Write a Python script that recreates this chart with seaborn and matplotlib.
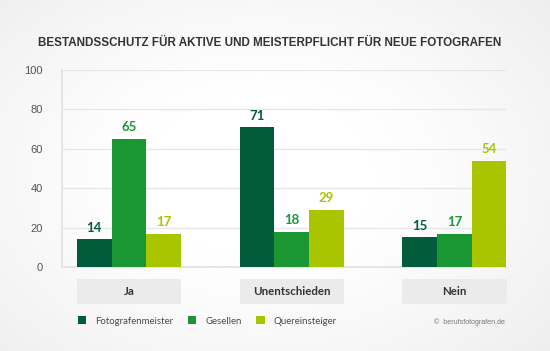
import matplotlib
matplotlib.use("Agg")
import matplotlib.pyplot as plt
import matplotlib.transforms as mtransforms
from matplotlib.patches import Rectangle
import seaborn as sns
import pandas as pd
import numpy as np

categories = ["Ja", "Unentschieden", "Nein"]
series = ["Fotografenmeister", "Gesellen", "Quereinsteiger"]
fotografenmeister = [14, 71, 15]
gesellen = [65, 18, 17]
quereinsteiger = [17, 29, 54]
colors = ["#005C3A", "#1A9633", "#A8C500"]
yticks = [0, 20, 40, 60, 80, 100]

rows = []
for s, vals in zip(series, [fotografenmeister, gesellen, quereinsteiger]):
    for c, v in zip(categories, vals):
        rows.append({"Kategorie": c, "Gruppe": s, "Wert": v})
df = pd.DataFrame(rows)

sns.set_theme(style="white")
plt.rcParams["font.family"] = ["Lato", "DejaVu Sans"]

fig = plt.figure(figsize=(5.5, 3.51), dpi=100, facecolor="#F4F4F4")

# soft radial background
bg = fig.add_axes([0, 0, 1, 1], zorder=-10)
yy, xx = np.mgrid[0:351, 0:550]
r = np.sqrt(((xx - 260) / 330.0) ** 2 + ((yy - 175) / 230.0) ** 2)
shade = 1.0 - 0.085 * np.clip(r - 0.35, 0, None) ** 1.2
bg.imshow(np.dstack([shade] * 3), aspect="auto", extent=[0, 1, 0, 1], interpolation="bilinear")
bg.axis("off")

ax = fig.add_axes([62/550, 1-267/351, (506-62)/550, (267-70)/351])
ax.set_facecolor("none")

sns.barplot(data=df, x="Kategorie", y="Wert", hue="Gruppe", order=categories,
            hue_order=series, palette=colors, width=0.64, gap=0, saturation=1,
            edgecolor="none", linewidth=0, ax=ax, zorder=3)

ax.set_ylim(0, 100)
ax.set_xlim(-0.412, 2.316)
ax.set_yticks(yticks)
ax.set_yticklabels([str(t) for t in yticks], family="Liberation Sans", fontsize=8, color="#555555")
ax.tick_params(axis="y", length=0, pad=14)
ax.set_xticks([])
ax.set_xlabel("")
ax.set_ylabel("")
ax.grid(axis="y", color="#E6E6E6", linewidth=0.9, zorder=0)
for sp in ["top", "right"]:
    ax.spines[sp].set_visible(False)
ax.spines["left"].set_color("#E3E3E3")
ax.spines["bottom"].set_color("#E3E3E3")

for cont, col in zip(ax.containers, colors):
    ax.bar_label(cont, labels=[f"{int(v)}" for v in cont.datavalues], padding=4,
                 color=col, fontsize=9.5, fontweight="bold")

trans = mtransforms.blended_transform_factory(ax.transData, ax.transAxes)
for i, c in enumerate(categories):
    ax.add_patch(Rectangle((i - 0.32, -0.188), 0.64, 0.127, transform=trans,
                           facecolor="#EBEBEB", edgecolor="none", clip_on=False))
    ax.text(i, -0.1245, c, transform=trans, ha="center", va="center",
            fontsize=8.3, color="#333333", fontweight="bold")

sns.move_legend(ax, "center left", bbox_to_anchor=(74/550, 1-321/351),
                bbox_transform=fig.transFigure, ncol=3, frameon=False, title=None,
                fontsize=6.9, handlelength=0.88, handleheight=0.88,
                handletextpad=0.95, columnspacing=1.5, borderaxespad=0)
for t in ax.get_legend().get_texts():
    t.set_color("#4A4A4A")

fig.text(38/550, 1-43/351, "BESTANDSSCHUTZ FÜR AKTIVE UND MEISTERPFLICHT FÜR NEUE FOTOGRAFEN",
         family="Liberation Sans", fontweight="bold", fontsize=8.4, color="#333333",
         ha="left", va="center")
fig.text(505/550, 1-322/351, "©  berufsfotografen.de", family="Liberation Sans",
         fontsize=5.1, color="#777777", ha="right", va="center")

fig.savefig("out.png", dpi=100, facecolor=fig.get_facecolor())
